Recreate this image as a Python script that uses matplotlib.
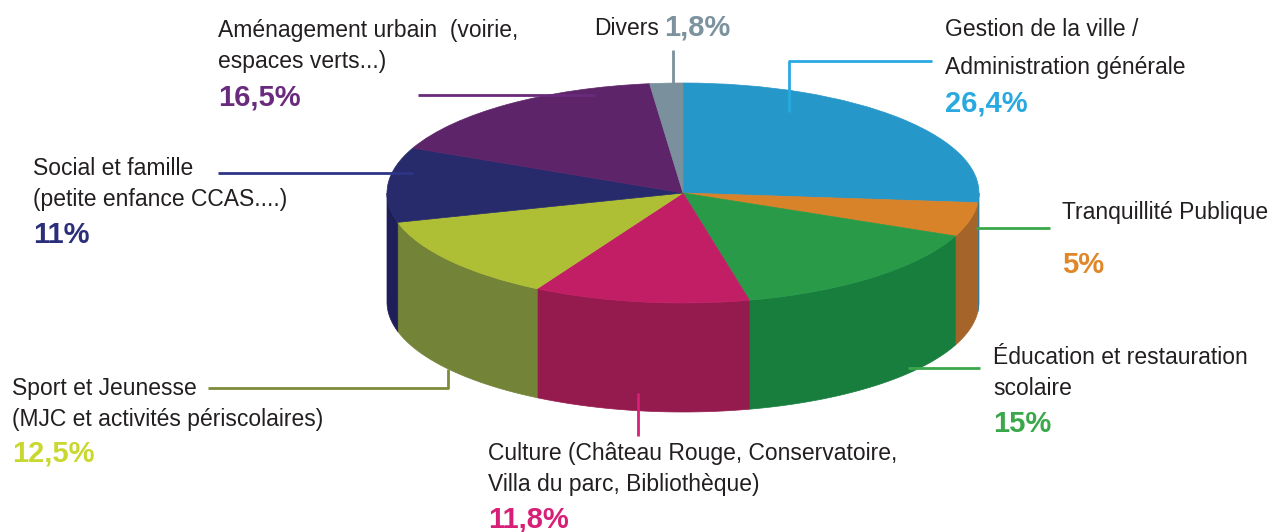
import numpy as np
import matplotlib.pyplot as plt
from matplotlib.patches import Wedge, Polygon
from matplotlib.transforms import Affine2D

plt.rcParams['font.family'] = ['Liberation Sans', 'DejaVu Sans']

# slices, clockwise from 12 o'clock
names = ['Gestion de la ville /\nAdministration générale',
         'Tranquillité Publique',
         'Éducation et restauration\nscolaire',
         'Culture (Château Rouge, Conservatoire,\nVilla du parc, Bibliothèque)',
         'Sport et Jeunesse\n(MJC et activités périscolaires)',
         'Social et famille\n(petite enfance CCAS....)',
         'Aménagement urbain  (voirie,\nespaces verts...)',
         'Divers']
values = [26.4, 5, 15, 11.8, 12.5, 11, 16.5, 1.8]
pct_labels = ['26,4%', '5%', '15%', '11,8%', '12,5%', '11%', '16,5%', '1,8%']

top_colors = ['#2597C9', '#D8822A', '#289A48', '#C21E66',
              '#AFBF35', '#272B6B', '#5D2469', '#7A909C']
side_colors = ['#1E7BA6', '#A5652A', '#177E3E', '#951B4E',
               '#738337', '#1E1E58', '#4A1C55', '#62757F']
pct_colors = ['#29A9E0', '#E0872A', '#3AA84A', '#D81F78',
              '#C9D82E', '#2B2F7A', '#6A2A7E', '#7C939F']
line_colors = ['#29A9E0', '#3AA84A', '#3AA84A', '#D81F78',
               '#7D8C3A', '#2E3486', '#6A2A7C', '#7B919C']

W, H = 1275, 532
CX, CY = 683, H - 193
RX, RY = 296, 110
DEPTH = 109
TXT = '#231F20'

fig = plt.figure(figsize=(12.75, 5.32), dpi=100)
ax = fig.add_axes([0, 0, 1, 1])
ax.set_xlim(0, W)
ax.set_ylim(0, H)
ax.axis('off')

ell = Affine2D().scale(RX, RY).translate(CX, CY) + ax.transData


def arc(t1, t2, n=100):
    t = np.radians(np.linspace(t1, t2, n))
    return np.column_stack([CX + RX * np.cos(t), CY + RY * np.sin(t)])


bounds = 90 - 3.6 * np.concatenate([[0], np.cumsum(values)])

# side walls (only the front half is visible)
for i in range(len(values)):
    hi = min(bounds[i], 0)
    lo = max(bounds[i + 1], -180)
    if hi <= lo:
        continue
    top = arc(hi, lo)
    bot = arc(lo, hi) - [0, DEPTH]
    ax.add_patch(Polygon(np.vstack([top, bot]), closed=True,
                         facecolor=side_colors[i], edgecolor=side_colors[i],
                         lw=0.5, zorder=1))

# top face
for i in range(len(values)):
    ax.add_patch(Wedge((0, 0), 1, bounds[i + 1], bounds[i], transform=ell,
                       facecolor=top_colors[i], edgecolor=top_colors[i],
                       lw=0.5, zorder=2))

# leader lines (image coords, y down)
leaders = [
    [(789, 112), (789, 61), (932, 61)],
    [(976, 228), (1050, 228)],
    [(908, 368), (980, 368)],
    [(638, 393), (638, 436)],
    [(208, 388), (448, 388), (448, 369)],
    [(218, 173), (413, 173)],
    [(418, 95), (595, 95)],
    [(673, 50), (673, 83)],
]
for pts, c in zip(leaders, line_colors):
    xs = [p[0] for p in pts]
    ys = [H - p[1] for p in pts]
    ax.plot(xs, ys, color=c, lw=2, solid_capstyle='butt', zorder=3)

# labels: (x, baseline of first line, baseline of percentage)
label_pos = [
    (945, 36, 112),
    (1062, 219, 273),
    (993, 364, 432),
    (488, 460, 527),
    (12, 395, 461),
    (33, 175, 243),
    (218, 37, 106),
]
LINE = 31
for i, (x, y0, yp) in enumerate(label_pos):
    for k, line in enumerate(names[i].split('\n')):
        gap = 38 if i == 0 else LINE
        ax.text(x, H - (y0 + k * gap), line, fontsize=16.5, color=TXT,
                va='baseline', ha='left', zorder=4)
    ax.text(x, H - yp, pct_labels[i], fontsize=21, fontweight='bold',
            color=pct_colors[i], va='baseline', ha='left', zorder=4)

# Divers on one line
ax.text(659, H - 35, names[7], fontsize=16.5, color=TXT,
        va='baseline', ha='right', zorder=4)
ax.text(664, H - 35, pct_labels[7], fontsize=21, fontweight='bold',
        color=pct_colors[7], va='baseline', ha='left', zorder=4)

fig.savefig('out.png', dpi=100, facecolor='white')
